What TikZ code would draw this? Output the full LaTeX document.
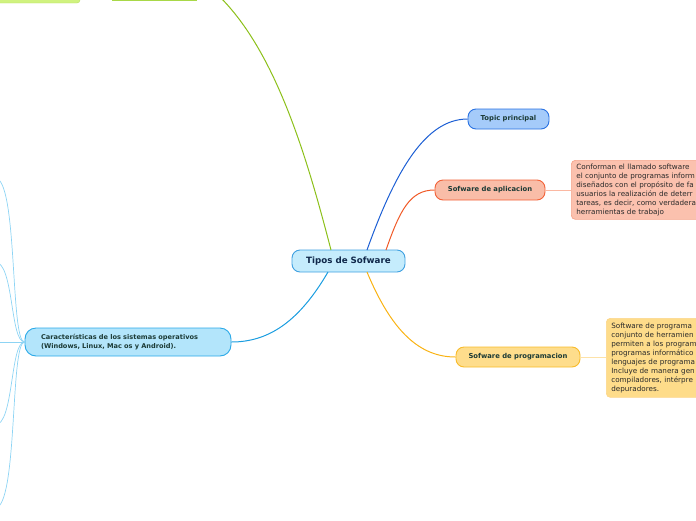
\documentclass[tikz,border=0pt]{standalone}
\usepackage{fontspec}
\setmainfont{DejaVu Sans}
\begin{document}
\begin{tikzpicture}[x=1pt,y=-1pt,
  tnode/.style={rounded corners=8pt, line width=0.9pt, inner sep=0pt, font=\bfseries\fontsize{6.8}{8}\selectfont, text=tcol, align=center},
  dnode/.style={rounded corners=4pt, line width=0.7pt, inner xsep=5pt, inner ysep=0pt, anchor=north west, font=\fontsize{7.2}{9}\selectfont, text=dtxt, align=left, text width=145pt},
  conn/.style={line width=1pt},
  thin/.style={line width=0.7pt}]
\definecolor{tcol}{HTML}{1B3A35}
\definecolor{dtxt}{HTML}{2A2A2A}
\definecolor{ccol}{HTML}{10284A}
\definecolor{cfill}{HTML}{C5ECFC}\definecolor{cdraw}{HTML}{3FA0E0}
\definecolor{tfill}{HTML}{A5CBFA}\definecolor{tdraw}{HTML}{2A72E2}\definecolor{tline}{HTML}{1D5FD4}
\definecolor{afill}{HTML}{F9BDA8}\definecolor{adraw}{HTML}{F26238}\definecolor{aline}{HTML}{F05A28}
\definecolor{adfill}{HTML}{FBC1AE}\definecolor{addraw}{HTML}{F6A68C}\definecolor{adline}{HTML}{FBB8A2}
\definecolor{pfill}{HTML}{FEDD8C}\definecolor{pdraw}{HTML}{F8BB2A}\definecolor{pline}{HTML}{F9B314}
\definecolor{pdfill}{HTML}{FEDC8A}\definecolor{pddraw}{HTML}{FCD68A}\definecolor{pdline}{HTML}{FDE2A8}
\definecolor{kfill}{HTML}{B3E5FB}\definecolor{kdraw}{HTML}{2AA9E8}\definecolor{kline}{HTML}{1A9DE0}
\definecolor{lline}{HTML}{8DD4F4}
\definecolor{gline}{HTML}{8CC01A}\definecolor{gbar}{HTML}{A8D848}
\definecolor{gfill}{HTML}{D0F27F}\definecolor{gdraw}{HTML}{B8E060}
\useasboundingbox (0,0) rectangle (696,520);
\clip (0,0) rectangle (696,520);

% nodes
\node[tnode, fill=cfill, draw=cdraw, minimum width=113pt, minimum height=22pt, text=ccol, font=\bfseries\fontsize{8.7}{10}\selectfont] (c) at (348.5,261) {Tipos de Sofware};
\node[tnode, fill=tfill, draw=tdraw, minimum width=81pt, minimum height=20pt] (t) at (508.5,119) {Topic principal};
\node[tnode, fill=afill, draw=adraw, minimum width=110pt, minimum height=20pt] (a) at (490,190) {Sofware de aplicacion};
\node[tnode, fill=pfill, draw=pdraw, minimum width=124pt, minimum height=20pt] (p) at (518,357) {Sofware de programacion};
\node[tnode, fill=kfill, draw=kdraw, text width=174pt, inner xsep=16pt, minimum height=28pt, align=left, rounded corners=11pt, font=\bfseries\fontsize{6.6}{8.5}\selectfont] (k) at (128,342) {Características de los sistemas operativos\\(Windows, Linux, Mac os y Android).};
\node[dnode, fill=adfill, draw=addraw, minimum height=59pt] (ad) at (571,160) {Conforman el llamado software\\el conjunto de programas inform\\diseñados con el propósito de fa\\usuarios la realización de deterr\\tareas, es decir, como verdadera\\herramientas de trabajo};
\node[dnode, fill=pdfill, draw=pddraw, minimum height=79pt] (pd) at (606,318) {Software de programa\\conjunto de herramien\\permiten a los program\\programas informático\\lenguajes de programa\\Incluye de manera gen\\compiladores, intérpre\\depuradores.};

% top-left green elements (cut off)
\node[draw=gdraw, fill=gfill, rounded corners=3pt, minimum width=84pt, minimum height=10pt, inner sep=0pt] (g1) at (38,-2) {};
\coordinate (gb1) at (112,0);
\coordinate (gb2) at (197,0);
\draw[gbar, line width=1.5pt] (gb1) -- (gb2);
\coordinate (gend) at (200,-20);
\coordinate (cg) at (331,250);
\draw[conn, gline] (cg) .. controls (305,150) and (270,30) .. (gend);

% connectors from central node
\coordinate (ct) at (367,250);
\coordinate (ca) at (386,250);
\coordinate (cp) at (367,272);
\coordinate (ck) at (328,272);
\draw[conn, tline] (ct) .. controls (395,172) and (425,119) .. (t.west);
\draw[conn, aline] (ca) .. controls (400,210) and (410,190) .. (a.west);
\draw[conn, pline] (cp) .. controls (392,332) and (420,357) .. (p.west);
\draw[conn, kline] (ck) .. controls (300,320) and (270,342) .. (k.east);
\draw[thin, adline] (a.east) -- (ad.west |- a.east);
\draw[thin, pdline] (p.east) -- (pd.west |- p.east);

% left branches from Caracteristicas
\coordinate (l1) at (-5,178);
\coordinate (l2) at (-5,262);
\coordinate (l3) at (-5,342);
\coordinate (l4) at (-5,425);
\coordinate (l5) at (-5,508);
\draw[thin, lline] (k.west) .. controls (10,342) and (18,178) .. (l1);
\draw[thin, lline] (k.west) .. controls (10,342) and (14,262) .. (l2);
\draw[thin, lline] (k.west) -- (l3);
\draw[thin, lline] (k.west) .. controls (10,342) and (14,425) .. (l4);
\draw[thin, lline] (k.west) .. controls (10,342) and (18,508) .. (l5);
\end{tikzpicture}
\end{document}
